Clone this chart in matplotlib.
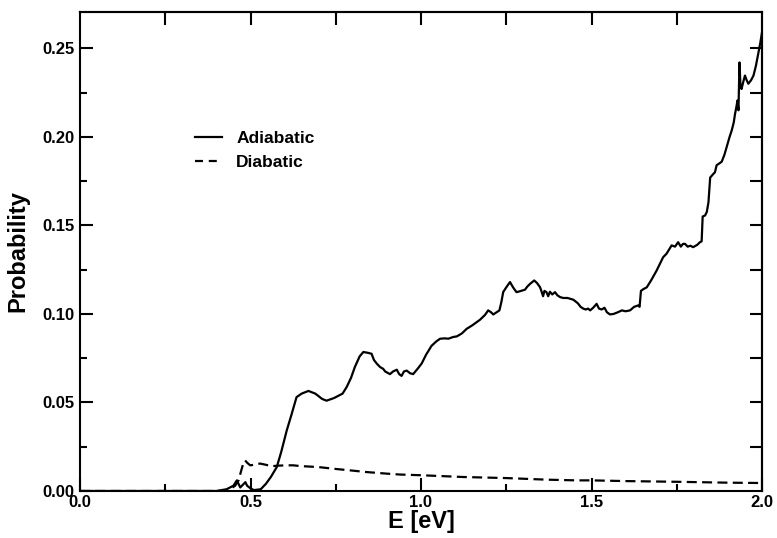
import matplotlib
matplotlib.use("Agg")
import matplotlib.pyplot as plt
from matplotlib.ticker import MultipleLocator, FormatStrFormatter

plt.rcParams['font.family'] = ['Liberation Sans', 'DejaVu Sans']
plt.rcParams['font.weight'] = 'bold'

# Adiabatic probability vs energy (eV)
adia_E = [0.00, 0.40, 0.43, 0.45, 0.46, 0.47, 0.48, 0.485, 0.49, 0.50, 0.51, 0.53, 0.545, 0.56,
          0.577, 0.59, 0.606, 0.62, 0.635, 0.65, 0.67, 0.69, 0.71, 0.723, 0.745, 0.76, 0.77, 0.782,
          0.795, 0.806, 0.82, 0.831, 0.845, 0.855, 0.862, 0.87, 0.88, 0.889, 0.895, 0.909, 0.918,
          0.929, 0.936, 0.943, 0.95, 0.958, 0.968, 0.977, 0.99, 1.002, 1.015, 1.031, 1.045, 1.056,
          1.07, 1.08, 1.095, 1.105, 1.12, 1.134, 1.15, 1.173, 1.188, 1.197, 1.205, 1.212, 1.222,
          1.23, 1.236, 1.241, 1.25, 1.261, 1.27, 1.28, 1.29, 1.305, 1.312, 1.32, 1.332, 1.34,
          1.349, 1.353, 1.358, 1.362, 1.368, 1.373, 1.378, 1.385, 1.393, 1.40, 1.408, 1.417, 1.43,
          1.447, 1.46, 1.468, 1.476, 1.483, 1.49, 1.496, 1.505, 1.515, 1.522, 1.53, 1.538, 1.545,
          1.554, 1.565, 1.578, 1.589, 1.60, 1.613, 1.625, 1.637, 1.641, 1.645, 1.652, 1.662, 1.675,
          1.691, 1.70, 1.71, 1.72, 1.735, 1.745, 1.754, 1.762, 1.768, 1.774, 1.782, 1.79, 1.798,
          1.81, 1.818, 1.823, 1.826, 1.833, 1.838, 1.843, 1.848, 1.857, 1.862, 1.867, 1.875, 1.882,
          1.89, 1.896, 1.905, 1.911, 1.917, 1.921, 1.925, 1.928, 1.931, 1.934, 1.937, 1.94, 1.945,
          1.95, 1.955, 1.96, 1.968, 1.975, 1.982, 1.989, 1.995, 2.0]
adia_P = [0.0, 0.0, 0.001, 0.003, 0.006, 0.002, 0.004, 0.005, 0.003, 0.0015, 0.0005, 0.001, 0.004, 0.008,
          0.0135, 0.022, 0.034, 0.043, 0.053, 0.055, 0.0565, 0.055, 0.052, 0.051, 0.0525, 0.054, 0.055, 0.0587,
          0.064, 0.070, 0.076, 0.0785, 0.078, 0.0775, 0.074, 0.072, 0.070, 0.069, 0.0675, 0.066, 0.0675,
          0.0685, 0.066, 0.065, 0.0675, 0.068, 0.0665, 0.066, 0.069, 0.072, 0.077, 0.082, 0.0845, 0.086,
          0.0862, 0.086, 0.087, 0.0873, 0.089, 0.0916, 0.0935, 0.0967, 0.0995, 0.102, 0.101, 0.0997, 0.101,
          0.102, 0.107, 0.1123, 0.115, 0.118, 0.115, 0.1123, 0.1128, 0.1137, 0.1155, 0.117, 0.1189, 0.1175,
          0.1151, 0.113, 0.110, 0.113, 0.1123, 0.110, 0.1125, 0.111, 0.1123, 0.1105, 0.1095, 0.109, 0.109,
          0.108, 0.106, 0.104, 0.103, 0.1025, 0.103, 0.102, 0.1035, 0.1057, 0.103, 0.1025, 0.1035, 0.101,
          0.0997, 0.100, 0.101, 0.102, 0.1015, 0.102, 0.104, 0.1048, 0.104, 0.113, 0.114, 0.115, 0.119,
          0.1245, 0.128, 0.132, 0.134, 0.1387, 0.138, 0.1405, 0.138, 0.1395, 0.1396, 0.138, 0.1385, 0.1377,
          0.139, 0.1405, 0.141, 0.155, 0.1556, 0.1575, 0.163, 0.177, 0.179, 0.180, 0.184, 0.185, 0.186,
          0.190, 0.194, 0.200, 0.2035, 0.208, 0.213, 0.217, 0.2205, 0.215, 0.242, 0.228, 0.227, 0.231,
          0.2346, 0.232, 0.230, 0.232, 0.2346, 0.240, 0.247, 0.253, 0.259]

# Diabatic probability vs energy (eV)
dia_E = [0.0, 0.42, 0.44, 0.455, 0.465, 0.472, 0.478, 0.484, 0.49, 0.499, 0.51, 0.528, 0.545, 0.562,
         0.58, 0.606, 0.625, 0.645, 0.70, 0.742, 0.80, 0.84, 0.90, 0.938, 1.0, 1.075, 1.124, 1.25,
         1.369, 1.456, 1.5, 1.6, 1.75, 1.9, 2.0]
dia_P = [0.0, 0.0, 0.001, 0.003, 0.006, 0.011, 0.015, 0.0173, 0.016, 0.0145, 0.0148, 0.0155, 0.0148, 0.014,
         0.0143, 0.0145, 0.0145, 0.0141, 0.0135, 0.0126, 0.0115, 0.0107, 0.0098, 0.0093, 0.0089, 0.0083,
         0.0079, 0.0073, 0.0064, 0.006, 0.006, 0.0056, 0.0052, 0.0047, 0.0045]

series_labels = ["Adiabatic", "Diabatic"]
x_label = "E [eV]"
y_label = "Probability"

fig = plt.figure(figsize=(7.77, 5.38), dpi=100)
ax = fig.add_axes([80/777, 1 - 491/538, (762-80)/777, (491-12)/538])

ax.plot(adia_E, adia_P, color='black', lw=1.6, label=series_labels[0])
ax.plot(dia_E, dia_P, color='black', lw=1.6, dashes=(4.5, 2.4), label=series_labels[1])

ax.set_xlim(0, 2.0)
ax.set_ylim(0, 0.2705)

for s in ax.spines.values():
    s.set_linewidth(1.5)

ax.xaxis.set_major_locator(MultipleLocator(0.5))
ax.xaxis.set_minor_locator(MultipleLocator(0.25))
ax.yaxis.set_major_locator(MultipleLocator(0.05))
ax.yaxis.set_minor_locator(MultipleLocator(0.025))
ax.xaxis.set_major_formatter(FormatStrFormatter('%.1f'))
ax.yaxis.set_major_formatter(FormatStrFormatter('%.2f'))

ax.tick_params(which='major', direction='in', length=9.5, width=1.5, labelsize=12, pad=4)
ax.tick_params(which='minor', direction='in', length=5, width=1.5)
ax.tick_params(axis='x', which='major', pad=3)

secx = ax.secondary_xaxis('top')
secx.set_xticks([0.25, 0.5, 0.75, 1.0, 1.25, 1.5, 1.75])
secx.tick_params(direction='in', length=9, width=1.5, labeltop=False)
secx.xaxis.set_minor_locator(plt.NullLocator())
secx.spines['top'].set_linewidth(1.5)

secy = ax.secondary_yaxis('right')
secy.set_yticks([0.025 * i for i in range(1, 11)])
secy.tick_params(direction='in', length=9, width=1.5, labelright=False)
secy.yaxis.set_minor_locator(plt.NullLocator())
secy.spines['right'].set_linewidth(1.5)

for lab in ax.get_xticklabels() + ax.get_yticklabels():
    lab.set_fontweight('bold')

ax.set_xlabel(x_label, fontsize=17, fontweight='bold', labelpad=0)
ax.set_ylabel(y_label, fontsize=17, fontweight='bold', labelpad=9)

leg = ax.legend(loc='upper left', bbox_to_anchor=(0.145, 0.785), frameon=False,
                fontsize=12.5, handlelength=1.6, handletextpad=0.8, labelspacing=0.55)
leg.get_lines()[1].set_dashes((3.6, 2.6))
for t in leg.get_texts():
    t.set_fontweight('bold')

fig.savefig("out.png", dpi=100)
